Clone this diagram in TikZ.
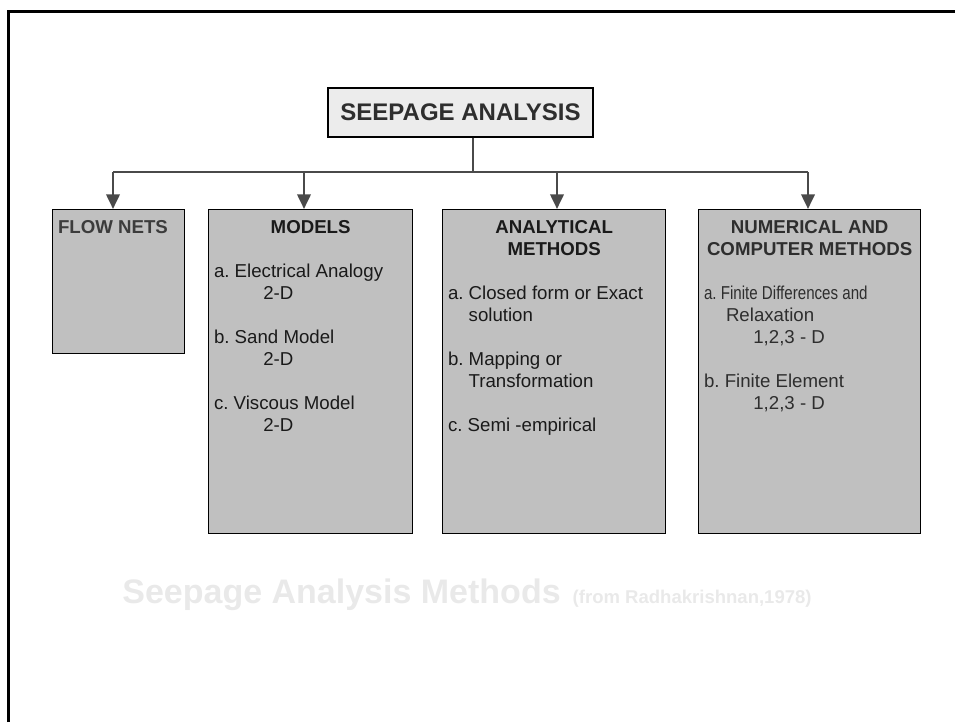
\documentclass[tikz,border=0pt]{standalone}
\usepackage{fontspec}
\setmainfont{Liberation Sans}
\usepackage{graphicx}
\usetikzlibrary{arrows.meta}
\frenchspacing

\definecolor{boxgray}{HTML}{C0C0C0}
\definecolor{topgray}{HTML}{ECECEC}
\definecolor{linkgray}{HTML}{4A4A4A}
\definecolor{capgray}{HTML}{E9E9E9}
\definecolor{inkdark}{HTML}{1A1A1A}
\definecolor{inkmid}{HTML}{3C3C3C}
\definecolor{inksoft}{HTML}{2E2E2E}

\newcommand{\blankline}{\par\vspace{\baselineskip}}

\begin{document}
\begin{tikzpicture}
[
    x=0.75pt, y=-0.75pt,
    link/.style={draw=linkgray, line width=2pt},
    drop/.style={link, -{Triangle[length=11pt, width=10pt]}},
    topbox/.style={draw=black, line width=1pt, fill=topgray, minimum width=198.75pt, minimum height=36.75pt, font=\fontsize{18}{21}\selectfont\bfseries, text=inksoft},
    method/.style={draw=black, line width=1pt, fill=boxgray, anchor=north west, inner xsep=4pt, inner ysep=8pt, font=\fontsize{14}{16.5}\selectfont, text=inkdark},
    caption/.style={anchor=base, inner sep=0pt, text=capgray, font=\bfseries},
]
\useasboundingbox (0,0) rectangle (955,722);
\draw[line width=2pt] (8.5,722) -- (8.5,11.5) -- (955,11.5);

\node[topbox] (seep) at (460.5,112.5) {SEEPAGE ANALYSIS};

\node[method, text=inkmid] (flow) at (52,209)
{\parbox[t][92pt][t]{91pt}{\bfseries FLOW NETS}};

\node[method] (models) at (208,209)
{\parbox[t][227pt][t]{145pt}{\centering\bfseries MODELS\par
\raggedright\mdseries\vspace{\baselineskip}
a. Electrical Analogy\\
\hspace*{37pt}2-D\blankline
b. Sand Model\\
\hspace*{37pt}2-D\blankline
c. Viscous Model\\
\hspace*{37pt}2-D}};

\node[method] (analytic) at (442,209)
{\parbox[t][227pt][t]{159.25pt}{\centering\bfseries ANALYTICAL\\ METHODS\par
\raggedright\mdseries\vspace{\baselineskip}
a. Closed form or Exact\\
\hspace*{15.5pt}solution\blankline
b. Mapping or\\
\hspace*{15.5pt}Transformation\blankline
c. Semi -empirical}};

\node[method, text=inksoft] (numeric) at (698,209)
{\parbox[t][227pt][t]{158.5pt}{\centering\bfseries NUMERICAL AND\\ COMPUTER METHODS\par
\raggedright\mdseries\vspace{\baselineskip}
\scalebox{0.81}[1]{a. Finite Differences and}\\
\hspace*{16.5pt}Relaxation\\
\hspace*{37pt}1,2,3 - D\blankline
b. Finite Element\\
\hspace*{37pt}1,2,3 - D}};

\coordinate (hub) at (473,172);
\coordinate (b1) at (113,172);
\coordinate (b2) at (304,172);
\coordinate (b3) at (557,172);
\coordinate (b4) at (808,172);

\draw[link] (seep.south -| hub) -- (hub);
\draw[link] (b1) -- (b4);
\draw[drop] (b1) -- (flow.north -| b1);
\draw[drop] (b2) -- (models.north -| b2);
\draw[drop] (b3) -- (analytic.north -| b3);
\draw[drop] (b4) -- (numeric.north -| b4);

\node[caption] (cap) at (467,603)
{{\fontsize{25.5}{30}\selectfont Seepage Analysis Methods}\hspace{9pt}{\fontsize{13.9}{16}\selectfont (from Radhakrishnan,1978)}};
\end{tikzpicture}
\end{document}
